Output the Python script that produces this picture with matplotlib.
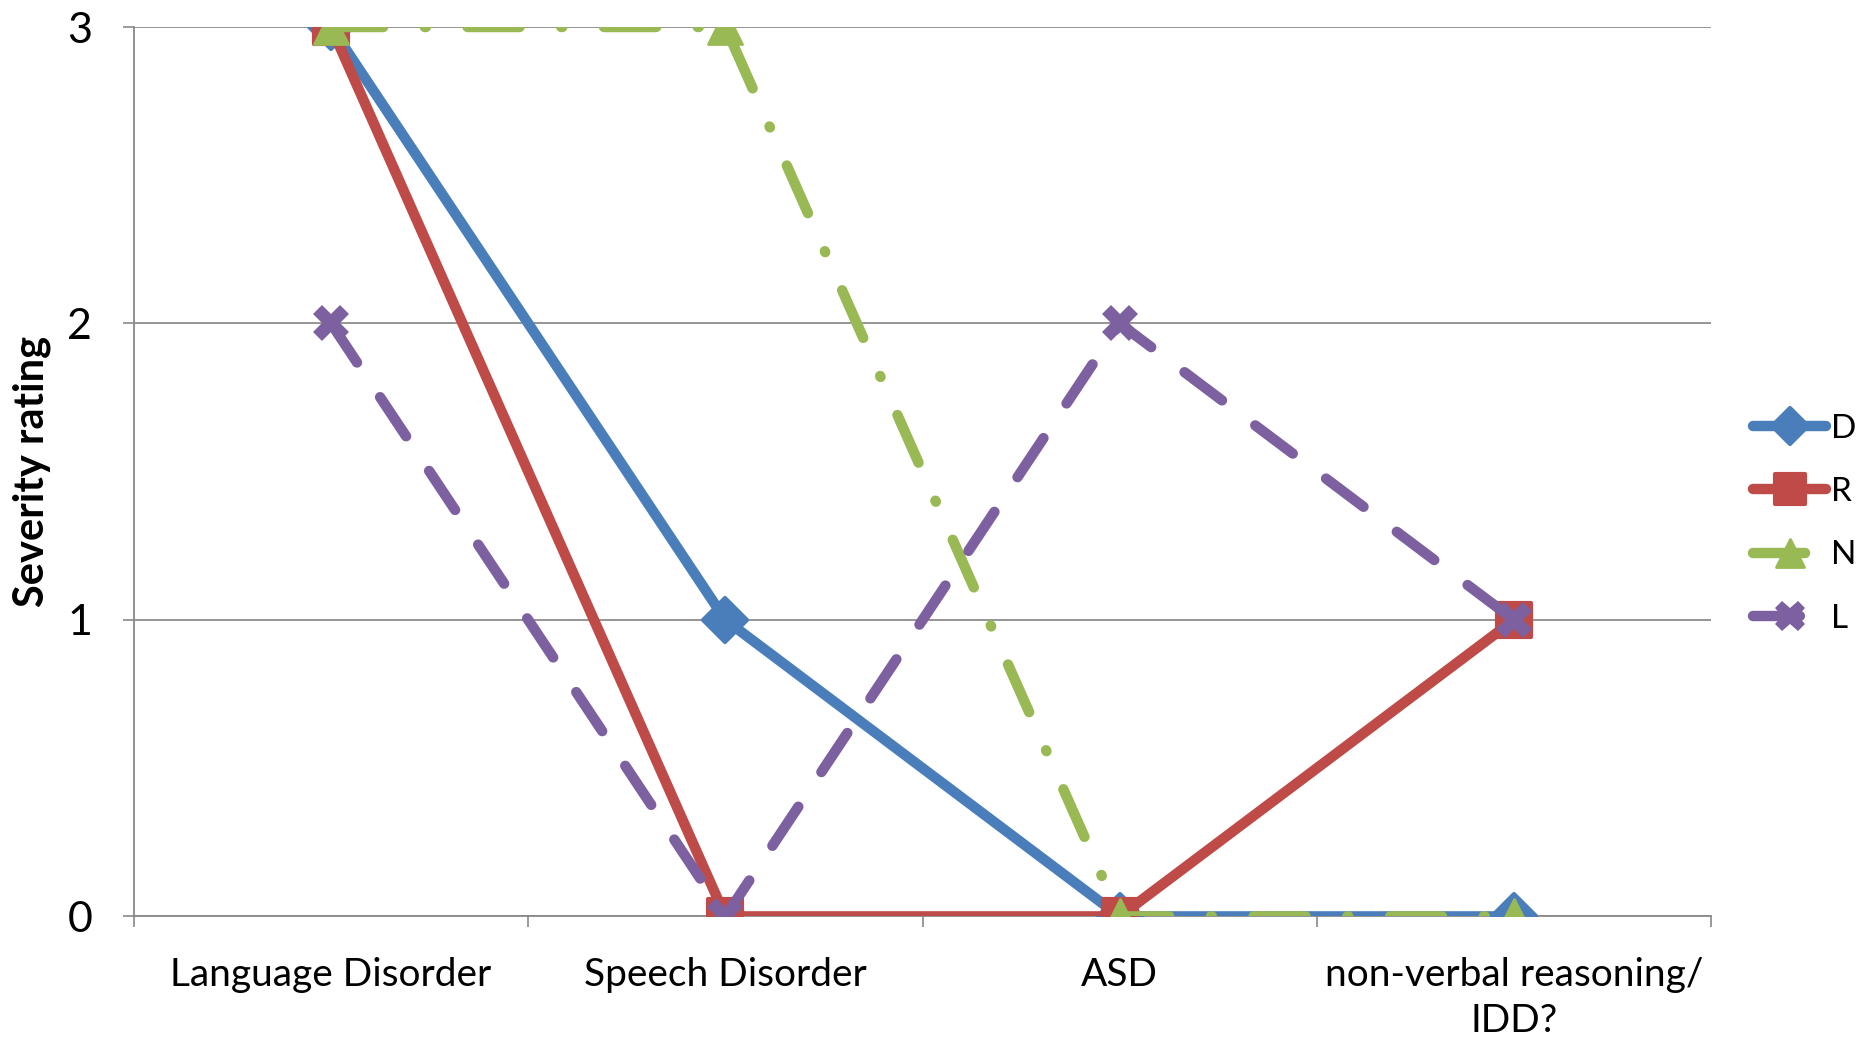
import matplotlib
matplotlib.use("Agg")
import matplotlib.pyplot as plt
from matplotlib.markers import MarkerStyle
from matplotlib.ticker import FixedLocator, NullFormatter

plt.rcParams['font.family'] = ['Lato', 'DejaVu Sans']

categories = ["Language Disorder", "Speech Disorder", "ASD", "non-verbal reasoning/\nIDD?"]
series_names = ["D", "R", "N", "L"]
values_D = [3, 1, 0, 0]
values_R = [3, 0, 0, 1]
values_N = [3, 3, 0, 0]
values_L = [2, 0, 2, 1]
y_ticks = [0, 1, 2, 3]

colors = {"D": "#4A7EBB", "R": "#BE4B48", "N": "#98B954", "L": "#7D60A0"}

fig = plt.figure(figsize=(18.6, 10.39), dpi=100)
ax = fig.add_axes([0.072, 0.118, 0.848, 0.856])

x = list(range(len(categories)))

def mk(shape):
    return MarkerStyle(shape, joinstyle="round")

ax.plot(x, values_D, color=colors["D"], lw=7.5, marker=mk("D"), ms=22, mew=3,
        solid_capstyle="round", solid_joinstyle="round", label="D", zorder=3)
ax.plot(x, values_R, color=colors["R"], lw=7.5, marker=mk("s"), ms=25, mew=3,
        solid_capstyle="round", solid_joinstyle="round", label="R", zorder=4)
ax.plot(x, values_N, color=colors["N"], lw=7.5, marker=mk("^"), ms=24, mew=2,
        dashes=(5, 4, 0.1, 4), dash_capstyle="round", label="N", zorder=5)
ax.plot(x, values_L, color=colors["L"], lw=7.5, marker=mk("X"), ms=26,
        mew=0, dashes=(4.5, 4), dash_capstyle="round", label="L", zorder=6)

ax.set_xlim(-0.5, len(categories) - 0.5)
ax.set_ylim(0, 3)
ax.set_yticks(y_ticks)
ax.set_yticklabels([str(v) for v in y_ticks])
ax.set_xticks(x)
ax.set_xticklabels(categories, linespacing=1.35)
ax.xaxis.set_minor_locator(FixedLocator([i - 0.5 for i in range(len(categories) + 1)]))
ax.xaxis.set_minor_formatter(NullFormatter())
ax.tick_params(axis="x", which="major", length=0, pad=29, labelsize=28)
ax.tick_params(axis="x", which="minor", length=8, width=1.2, color="#898989")
ax.tick_params(axis="y", length=8, width=1.2, color="#898989", pad=22, labelsize=31)

ax.grid(axis="y", color="#8C8C8C", lw=1.3)
ax.set_axisbelow(True)
for s in ["top", "right"]:
    ax.spines[s].set_visible(False)
for s in ["left", "bottom"]:
    ax.spines[s].set_color("#898989")
    ax.spines[s].set_linewidth(1.3)
ax.spines["bottom"].set_zorder(1)

ax.set_ylabel("Severity rating", fontsize=30, fontweight="bold", labelpad=12)

leg = fig.legend(loc="center left", bbox_to_anchor=(0.9425, 0.496), frameon=False,
                 fontsize=24, handlelength=2.2, handletextpad=0.15,
                 labelspacing=1.0, markerscale=0.85, borderpad=0,
                 borderaxespad=0)

fig.savefig("out.png", dpi=100)
